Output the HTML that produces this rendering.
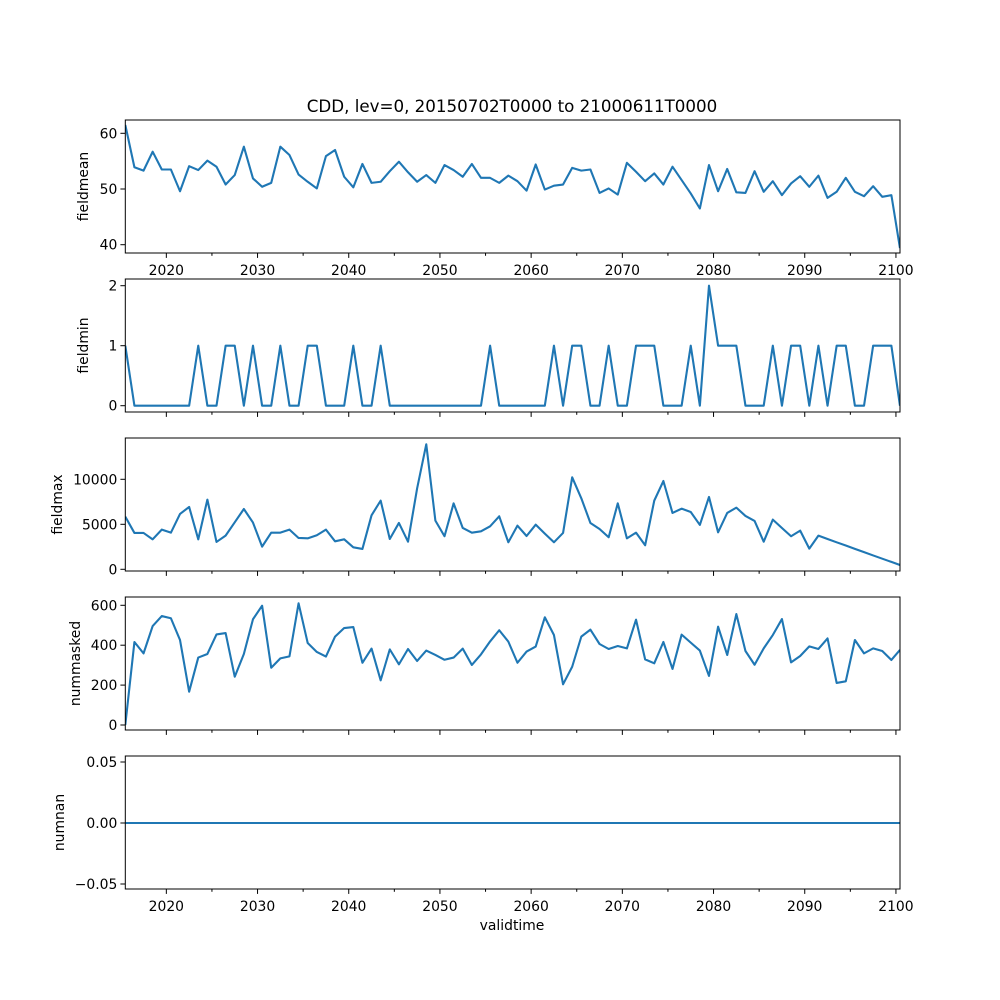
<!DOCTYPE html>
<html><head><meta charset="utf-8"><style>
html,body{margin:0;padding:0;background:#fff;}
svg{display:block;font-family:"DejaVu Sans","Liberation Sans",sans-serif;}
</style></head><body>
<svg id="chart" width="1000" height="1000" viewBox="0 0 1000 1000" xmlns="http://www.w3.org/2000/svg">
<rect x="0" y="0" width="1000" height="1000" fill="#fff"/>
<text x="512" y="112" text-anchor="middle" font-size="16.7">CDD, lev=0, 20150702T0000 to 21000611T0000</text>
<text x="512" y="930" text-anchor="middle" font-size="13.9">validtime</text>
</svg>
<script>
const fieldmean=[61.5,53.9,53.3,56.7,53.5,53.5,49.6,54.1,53.4,55.1,54.0,50.8,52.5,57.6,51.9,50.4,51.1,57.6,56.1,52.6,51.3,50.1,55.9,57.0,52.2,50.3,54.5,51.1,51.3,53.2,54.9,53.0,51.3,52.5,51.1,54.3,53.4,52.2,54.5,52.0,52.0,51.1,52.4,51.4,49.7,54.4,49.9,50.6,50.8,53.8,53.3,53.5,49.3,50.1,49.0,54.7,53.1,51.4,52.8,50.8,54.0,51.6,49.2,46.5,54.3,49.6,53.6,49.4,49.3,53.2,49.5,51.4,48.9,51.0,52.3,50.4,52.4,48.4,49.5,52.0,49.5,48.7,50.5,48.6,48.9,39.4];
const fieldmin=[1,0,0,0,0,0,0,0,1,0,0,1,1,0,1,0,0,1,0,0,1,1,0,0,0,1,0,0,1,0,0,0,0,0,0,0,0,0,0,0,1,0,0,0,0,0,0,1,0,1,1,0,0,1,0,0,1,1,1,0,0,0,1,0,2,1,1,1,0,0,0,1,0,1,1,0,1,0,1,1,0,0,1,1,1,0];
const fieldmax=[5850,4040,4040,3330,4410,4070,6150,6930,3330,7740,3040,3740,5220,6700,5190,2520,4070,4070,4410,3480,3440,3780,4410,3110,3330,2440,2260,6000,7630,3370,5150,3070,9000,13890,5410,3670,7330,4590,4070,4220,4780,5890,3000,4850,3700,4960,3960,3000,4040,10220,7890,5150,4480,3560,7330,3440,4070,2670,7630,9810,6260,6740,6370,4930,8040,4110,6260,6850,5930,5370,3070,5520,4590,3670,4300,2300,3740,3370,3000,2640,2270,1910,1540,1180,820,480];
const nummasked=[0,416,359,496,546,535,426,167,338,356,454,461,242,356,530,598,287,334,344,610,411,366,343,443,486,491,312,383,224,379,304,381,321,373,351,327,338,383,301,354,419,475,418,312,368,393,540,451,204,292,443,478,406,381,396,384,528,329,309,416,281,453,413,373,246,493,351,556,371,302,384,451,531,314,346,394,381,434,211,219,426,359,384,371,326,376];
const numnan=[0,0,0,0,0,0,0,0,0,0,0,0,0,0,0,0,0,0,0,0,0,0,0,0,0,0,0,0,0,0,0,0,0,0,0,0,0,0,0,0,0,0,0,0,0,0,0,0,0,0,0,0,0,0,0,0,0,0,0,0,0,0,0,0,0,0,0,0,0,0,0,0,0,0,0,0,0,0,0,0,0,0,0,0,0,0];
const startYear=2015.5;
const xTickLabels=["2020","2030","2040","2050","2060","2070","2080","2090","2100"];
const meanTicks=["40","50","60"];
const minTicks=["0","1","2"];
const maxTicks=["0","5000","10000"];
const maskTicks=["0","200","400","600"];
const nanTicks=["-0.05","0.00","0.05"];

const NS="http://www.w3.org/2000/svg";
const svg=document.getElementById('chart');
const L=125.3,R=900;
function xs(yr){return L+(yr-startYear)*9.12;}
function mk(tag,attrs,parent){const e=document.createElementNS(NS,tag);for(const k in attrs)e.setAttribute(k,attrs[k]);(parent||svg).appendChild(e);return e;}
const panels=[
 {name:'fieldmean',data:fieldmean,ticks:meanTicks,top:120,bot:253,v0:50,p0:189,v1:60,p1:133.3,xl:true},
 {name:'fieldmin',data:fieldmin,ticks:minTicks,top:279,bot:412,v0:0,p0:405.7,v1:1,p1:345.7,xl:false},
 {name:'fieldmax',data:fieldmax,ticks:maxTicks,top:438,bot:571,v0:0,p0:569.3,v1:5000,p1:524.3,xl:false},
 {name:'nummasked',data:nummasked,ticks:maskTicks,top:597,bot:730,v0:0,p0:725,v1:200,p1:685.1,xl:false},
 {name:'numnan',data:numnan,ticks:nanTicks,top:756,bot:889,v0:0,p0:823,v1:0.05,p1:762,xl:true}
];
panels.forEach(p=>{
  const g=mk('g',{});
  
  
  const ys=v=>p.p0+(v-p.v0)*(p.p1-p.p0)/(p.v1-p.v0);
  const cp='clip-'+p.name;
  const defs=mk('defs',{},g);
  const c=mk('clipPath',{id:cp},defs);
  mk('rect',{x:L,y:p.top,width:R-L,height:p.bot-p.top},c);
  let d='';
  p.data.forEach((v,i)=>{let yr=startYear+i;if(i===p.data.length-1)yr=startYear+i-0.06;d+=(i?'L':'M')+xs(yr).toFixed(2)+','+ys(v).toFixed(2);});
  const line=mk('path',{d:d,fill:'none',stroke:'#1f77b4','stroke-width':2.1,'stroke-linejoin':'round','clip-path':'url(#'+cp+')'},g);
  
  
  const frame=mk('rect',{x:L,y:p.top,width:R-L,height:p.bot-p.top,fill:'none',stroke:'#000','stroke-width':1},g);
  
  
  p.ticks.forEach(t=>{
    const y=ys(parseFloat(t));
    mk('line',{x1:L-4.9,x2:L,y1:y,y2:y,stroke:'#000','stroke-width':1},g);
    const tx=mk('text',{x:L-8,y:y+5,'text-anchor':'end','font-size':13.9},g);
    
    
    tx.textContent=t.replace('-','\u2212');
  });
  xTickLabels.forEach(t=>{
    const x=xs(parseFloat(t));
    mk('line',{x1:x,x2:x,y1:p.bot,y2:p.bot+4.9,stroke:'#000','stroke-width':1},g);
    const xm=xs(parseFloat(t)+5);
    if(xm<R+1) mk('line',{x1:xm,x2:xm,y1:p.bot,y2:p.bot+2.8,stroke:'#000','stroke-width':1},g);
    if(p.xl){
      const tx=mk('text',{x:x,y:p.bot+22,'text-anchor':'middle','font-size':13.9},g);
      
      
      tx.textContent=t;
    }
  });
  const lx=p.name==='fieldmax'?62:(p.name==='numnan'?64:(p.name==='nummasked'?80:88));
  const cy=(p.top+p.bot)/2;
  const yl=mk('text',{x:lx,y:cy,'text-anchor':'middle','font-size':13.9,transform:'rotate(-90 '+lx+' '+cy+')'},g);
  
  
  yl.textContent=p.name;
});
</script>
</body></html>
